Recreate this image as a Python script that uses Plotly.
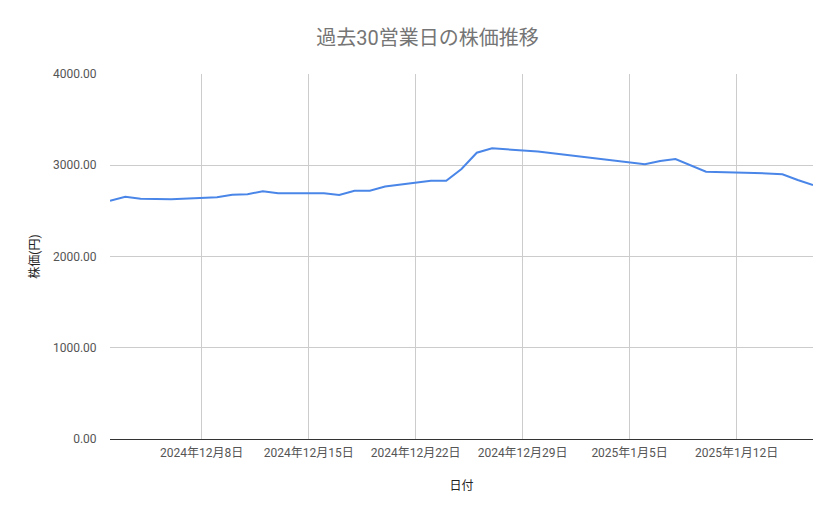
import plotly.graph_objects as go

# Business days (JPX calendar) and closing prices
dates = [
  '2024-12-02', '2024-12-03', '2024-12-04', '2024-12-05', '2024-12-06',
  '2024-12-09', '2024-12-10', '2024-12-11', '2024-12-12', '2024-12-13',
  '2024-12-16', '2024-12-17', '2024-12-18', '2024-12-19', '2024-12-20',
  '2024-12-23', '2024-12-24', '2024-12-25', '2024-12-26', '2024-12-27',
  '2024-12-30', '2025-01-06', '2025-01-07', '2025-01-08', '2025-01-09',
  '2025-01-10', '2025-01-14', '2025-01-15', '2025-01-16', '2025-01-17',
]
prices = [
  2612, 2655, 2633, 2630, 2628,
  2649, 2677, 2682, 2715, 2693,
  2693, 2674, 2721, 2721, 2767,
  2831, 2831, 2959, 3137, 3186,
  3150, 3010, 3047, 3068, 2999,
  2929, 2910, 2901, 2838, 2784,
]

tickDates = ['2024-12-08', '2024-12-15', '2024-12-22', '2024-12-29', '2025-01-05', '2025-01-12']
tickLabels = ['2024年12月8日', '2024年12月15日', '2024年12月22日', '2024年12月29日', '2025年1月5日', '2025年1月12日']
yTicks = [0, 1000, 2000, 3000, 4000]

fontFamily = 'Roboto, "Noto Sans CJK JP", sans-serif'

fig = go.Figure()
fig.add_trace(go.Scatter(
  x = dates,
  y = prices,
  mode = 'lines',
  line = dict(color = '#4a86e8', width = 2),
  name = '株価',
))

# page body adds ~8px offset, so margins are shifted accordingly
fig.update_layout(
  width = 839,
  height = 519,
  margin = dict(l = 102, r = 34, t = 66, b = 88),
  paper_bgcolor = 'white',
  plot_bgcolor = 'white',
  showlegend = False,
  font = dict(family = fontFamily, size = 12, color = '#444444'),
  title = dict(
    text = '過去30営業日の株価推移',
    x = 0.5,
    xanchor = 'center',
    y = 0.942,
    yanchor = 'middle',
    font = dict(family = fontFamily, size = 20, color = '#757575'),
  ),
  xaxis = dict(
    type = 'date',
    range = ['2024-12-02', '2025-01-17'],
    tickvals = tickDates,
    ticktext = tickLabels,
    showgrid = True,
    gridcolor = '#cccccc',
    gridwidth = 1,
    tickfont = dict(size = 12, color = '#555555'),
    ticks = 'outside',
    ticklen = 3,
    tickcolor = 'rgba(0,0,0,0)',
    showline = False,
    zeroline = False,
    title = dict(text = '日付', font = dict(size = 12, color = '#222222'), standoff = 22),
  ),
  yaxis = dict(
    range = [0, 4000],
    tickvals = yTicks,
    tickformat = '.2f',
    showgrid = True,
    gridcolor = '#cccccc',
    gridwidth = 1,
    zeroline = True,
    zerolinecolor = '#333333',
    zerolinewidth = 1,
    showline = False,
    ticks = 'outside',
    ticklen = 10,
    tickcolor = 'rgba(0,0,0,0)',
    tickfont = dict(size = 12, color = '#555555'),
    title = dict(text = '株価(円)', font = dict(size = 12, color = '#222222'), standoff = 10),
  ),
)

fig.write_html('out.html')
